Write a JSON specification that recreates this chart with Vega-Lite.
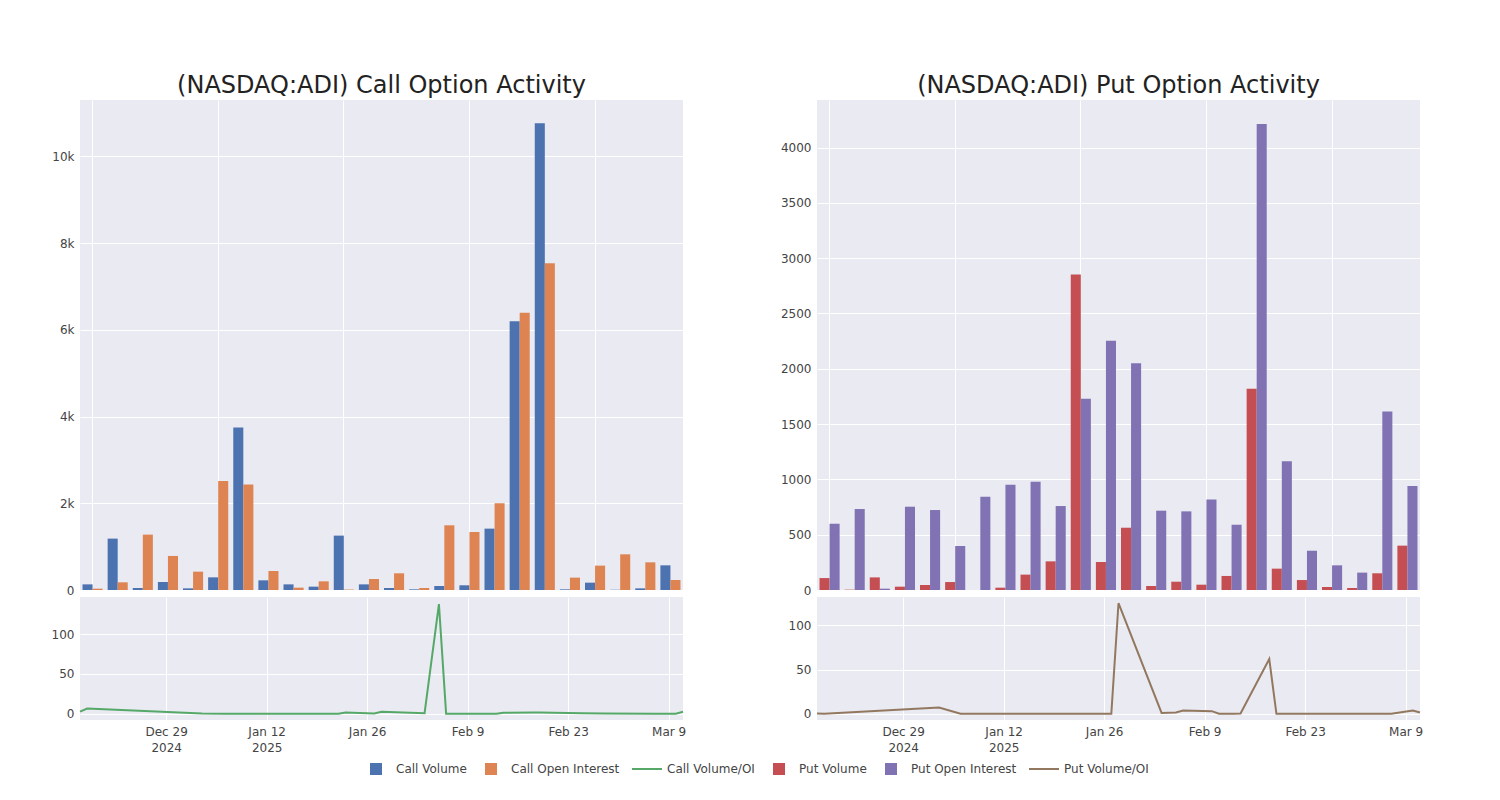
{
  "$schema": "https://vega.github.io/schema/vega-lite/v6.json",
  "background": "white",
  "padding": {"left": 51, "top": 74, "right": 0, "bottom": 0},
  "autosize": {"type": "pad"},
  "datasets": {
    "bars": [
      {"d":"2024-12-17","s":"Call Volume","v":130},{"d":"2024-12-17","s":"Call Open Interest","v":30},{"d":"2024-12-17","s":"Put Volume","v":108},{"d":"2024-12-17","s":"Put Open Interest","v":599},
      {"d":"2024-12-18","s":"Call Volume","v":1185},{"d":"2024-12-18","s":"Call Open Interest","v":177},{"d":"2024-12-18","s":"Put Volume","v":3},{"d":"2024-12-18","s":"Put Open Interest","v":732},
      {"d":"2025-01-03","s":"Call Volume","v":46},{"d":"2025-01-03","s":"Call Open Interest","v":1277},{"d":"2025-01-03","s":"Put Volume","v":114},{"d":"2025-01-03","s":"Put Open Interest","v":12},
      {"d":"2025-01-06","s":"Call Volume","v":185},{"d":"2025-01-06","s":"Call Open Interest","v":785},{"d":"2025-01-06","s":"Put Volume","v":30},{"d":"2025-01-06","s":"Put Open Interest","v":753},
      {"d":"2025-01-10","s":"Call Volume","v":38},{"d":"2025-01-10","s":"Call Open Interest","v":423},{"d":"2025-01-10","s":"Put Volume","v":45},{"d":"2025-01-10","s":"Put Open Interest","v":723},
      {"d":"2025-01-17","s":"Call Volume","v":292},{"d":"2025-01-17","s":"Call Open Interest","v":2515},{"d":"2025-01-17","s":"Put Volume","v":72},{"d":"2025-01-17","s":"Put Open Interest","v":398},
      {"d":"2025-01-22","s":"Call Volume","v":3746},{"d":"2025-01-22","s":"Call Open Interest","v":2431},{"d":"2025-01-22","s":"Put Volume","v":0},{"d":"2025-01-22","s":"Put Open Interest","v":843},
      {"d":"2025-01-23","s":"Call Volume","v":223},{"d":"2025-01-23","s":"Call Open Interest","v":438},{"d":"2025-01-23","s":"Put Volume","v":21},{"d":"2025-01-23","s":"Put Open Interest","v":952},
      {"d":"2025-01-27","s":"Call Volume","v":130},{"d":"2025-01-27","s":"Call Open Interest","v":54},{"d":"2025-01-27","s":"Put Volume","v":139},{"d":"2025-01-27","s":"Put Open Interest","v":979},
      {"d":"2025-01-28","s":"Call Volume","v":77},{"d":"2025-01-28","s":"Call Open Interest","v":200},{"d":"2025-01-28","s":"Put Volume","v":259},{"d":"2025-01-28","s":"Put Open Interest","v":759},
      {"d":"2025-02-03","s":"Call Volume","v":1254},{"d":"2025-02-03","s":"Call Open Interest","v":10},{"d":"2025-02-03","s":"Put Volume","v":2852},{"d":"2025-02-03","s":"Put Open Interest","v":1729},
      {"d":"2025-02-05","s":"Call Volume","v":130},{"d":"2025-02-05","s":"Call Open Interest","v":254},{"d":"2025-02-05","s":"Put Volume","v":253},{"d":"2025-02-05","s":"Put Open Interest","v":2253},
      {"d":"2025-02-06","s":"Call Volume","v":46},{"d":"2025-02-06","s":"Call Open Interest","v":385},{"d":"2025-02-06","s":"Put Volume","v":563},{"d":"2025-02-06","s":"Put Open Interest","v":2051},
      {"d":"2025-02-10","s":"Call Volume","v":15},{"d":"2025-02-10","s":"Call Open Interest","v":46},{"d":"2025-02-10","s":"Put Volume","v":36},{"d":"2025-02-10","s":"Put Open Interest","v":717},
      {"d":"2025-02-11","s":"Call Volume","v":92},{"d":"2025-02-11","s":"Call Open Interest","v":1492},{"d":"2025-02-11","s":"Put Volume","v":75},{"d":"2025-02-11","s":"Put Open Interest","v":711},
      {"d":"2025-02-13","s":"Call Volume","v":108},{"d":"2025-02-13","s":"Call Open Interest","v":1338},{"d":"2025-02-13","s":"Put Volume","v":48},{"d":"2025-02-13","s":"Put Open Interest","v":819},
      {"d":"2025-02-14","s":"Call Volume","v":1415},{"d":"2025-02-14","s":"Call Open Interest","v":2000},{"d":"2025-02-14","s":"Put Volume","v":127},{"d":"2025-02-14","s":"Put Open Interest","v":590},
      {"d":"2025-02-18","s":"Call Volume","v":6200},{"d":"2025-02-18","s":"Call Open Interest","v":6392},{"d":"2025-02-18","s":"Put Volume","v":1819},{"d":"2025-02-18","s":"Put Open Interest","v":4214},
      {"d":"2025-02-19","s":"Call Volume","v":10762},{"d":"2025-02-19","s":"Call Open Interest","v":7538},{"d":"2025-02-19","s":"Put Volume","v":193},{"d":"2025-02-19","s":"Put Open Interest","v":1163},
      {"d":"2025-02-25","s":"Call Volume","v":15},{"d":"2025-02-25","s":"Call Open Interest","v":285},{"d":"2025-02-25","s":"Put Volume","v":90},{"d":"2025-02-25","s":"Put Open Interest","v":355},
      {"d":"2025-02-28","s":"Call Volume","v":169},{"d":"2025-02-28","s":"Call Open Interest","v":562},{"d":"2025-02-28","s":"Put Volume","v":27},{"d":"2025-02-28","s":"Put Open Interest","v":223},
      {"d":"2025-03-07","s":"Call Volume","v":5},{"d":"2025-03-07","s":"Call Open Interest","v":823},{"d":"2025-03-07","s":"Put Volume","v":18},{"d":"2025-03-07","s":"Put Open Interest","v":157},
      {"d":"2025-03-10","s":"Call Volume","v":38},{"d":"2025-03-10","s":"Call Open Interest","v":638},{"d":"2025-03-10","s":"Put Volume","v":151},{"d":"2025-03-10","s":"Put Open Interest","v":1614},
      {"d":"2025-03-11","s":"Call Volume","v":569},{"d":"2025-03-11","s":"Call Open Interest","v":231},{"d":"2025-03-11","s":"Put Volume","v":401},{"d":"2025-03-11","s":"Put Open Interest","v":940}
    ],
    "lines": [
      {"d":"2024-12-17","s":"Call Volume/OI","v":2.5},{"d":"2024-12-18","s":"Call Volume/OI","v":6.5},{"d":"2025-01-03","s":"Call Volume/OI","v":0.3},{"d":"2025-01-06","s":"Call Volume/OI","v":0},
      {"d":"2025-01-10","s":"Call Volume/OI","v":0},{"d":"2025-01-17","s":"Call Volume/OI","v":0},{"d":"2025-01-22","s":"Call Volume/OI","v":0},{"d":"2025-01-23","s":"Call Volume/OI","v":1.5},
      {"d":"2025-01-27","s":"Call Volume/OI","v":0.2},{"d":"2025-01-28","s":"Call Volume/OI","v":2.5},{"d":"2025-02-03","s":"Call Volume/OI","v":0.5},{"d":"2025-02-05","s":"Call Volume/OI","v":138},
      {"d":"2025-02-06","s":"Call Volume/OI","v":0},{"d":"2025-02-10","s":"Call Volume/OI","v":0},{"d":"2025-02-11","s":"Call Volume/OI","v":0},{"d":"2025-02-13","s":"Call Volume/OI","v":0},
      {"d":"2025-02-14","s":"Call Volume/OI","v":1},{"d":"2025-02-18","s":"Call Volume/OI","v":1.5},{"d":"2025-02-19","s":"Call Volume/OI","v":1.5},{"d":"2025-02-25","s":"Call Volume/OI","v":0.5},
      {"d":"2025-02-28","s":"Call Volume/OI","v":0.3},{"d":"2025-03-07","s":"Call Volume/OI","v":0},{"d":"2025-03-10","s":"Call Volume/OI","v":0},{"d":"2025-03-11","s":"Call Volume/OI","v":2.5},
      {"d":"2024-12-17","s":"Put Volume/OI","v":0.3},{"d":"2024-12-18","s":"Put Volume/OI","v":0.1},{"d":"2025-01-03","s":"Put Volume/OI","v":7},{"d":"2025-01-06","s":"Put Volume/OI","v":0},
      {"d":"2025-01-10","s":"Put Volume/OI","v":0},{"d":"2025-01-17","s":"Put Volume/OI","v":0},{"d":"2025-01-22","s":"Put Volume/OI","v":0},{"d":"2025-01-23","s":"Put Volume/OI","v":0},
      {"d":"2025-01-27","s":"Put Volume/OI","v":0},{"d":"2025-01-28","s":"Put Volume/OI","v":125},{"d":"2025-02-03","s":"Put Volume/OI","v":1},{"d":"2025-02-05","s":"Put Volume/OI","v":1.5},
      {"d":"2025-02-06","s":"Put Volume/OI","v":3.8},{"d":"2025-02-10","s":"Put Volume/OI","v":3},{"d":"2025-02-11","s":"Put Volume/OI","v":0},{"d":"2025-02-13","s":"Put Volume/OI","v":0.2},
      {"d":"2025-02-14","s":"Put Volume/OI","v":0.3},{"d":"2025-02-18","s":"Put Volume/OI","v":62},{"d":"2025-02-19","s":"Put Volume/OI","v":0},{"d":"2025-02-25","s":"Put Volume/OI","v":0},
      {"d":"2025-02-28","s":"Put Volume/OI","v":0},{"d":"2025-03-07","s":"Put Volume/OI","v":0},{"d":"2025-03-10","s":"Put Volume/OI","v":3.8},{"d":"2025-03-11","s":"Put Volume/OI","v":1.5}
    ]
  },
  "hconcat": [
    {
      "spacing": 1,
      "vconcat": [
        {
          "title": {"text": "(NASDAQ:ADI) Call Option Activity", "anchor": "middle", "frame": "group"},
          "width": 603, "height": 490,
          "data": {"name": "bars"},
          "transform": [{"filter": "indexof(datum.s, 'Call') == 0"}, {"calculate": "indexof(datum.s, 'Volume') >= 0 ? 'Volume' : 'OI'", "as": "k"}],
          "mark": {"type": "bar"},
          "encoding": {
            "x": {"field": "d", "type": "nominal", "scale": {"paddingInner": 0.2, "paddingOuter": 0.1},
                  "axis": {"title": null, "labels": false, "ticks": false, "domain": false, "grid": true, "bandPosition": 0.5,
                           "values": ["2024-12-17","2025-01-17","2025-02-03","2025-02-13","2025-02-28"]}},
            "xOffset": {"field": "k", "type": "nominal", "scale": {"domain": ["Volume","OI"], "paddingInner": 0, "paddingOuter": 0}},
            "y": {"field": "v", "type": "quantitative", "scale": {"domain": [0, 11300], "nice": false},
                  "axis": {"title": null, "values": [0,2000,4000,6000,8000,10000], "labelExpr": "datum.value == 0 ? '0' : (datum.value / 1000) + 'k'"}},
            "fill": {"field": "s", "type": "nominal",
                     "scale": {"domain": ["Call Volume","Call Open Interest","Call Volume/OI","Put Volume","Put Open Interest","Put Volume/OI"],
                               "range": ["#4C72B0","#DD8452","transparent","#C44E52","#8172B3","transparent"]},
                     "legend": {"orient": "none", "legendX": 280, "legendY": 653, "direction": "horizontal", "title": null, "columns": 6, "columnPadding": 8, "symbolSize": 900, "symbolStrokeWidth": 2, "symbolOpacity": 1, "labelFont": "DejaVu Sans", "labelFontSize": 12, "labelColor": "#444", "labelOffset": 4}}
          }
        },
        {
          "width": 603, "height": 123,
          "data": {"name": "lines"},
          "transform": [{"filter": "datum.s == 'Call Volume/OI'"}],
          "encoding": {
            "x": {"field": "d", "type": "temporal",
                  "scale": {"type": "utc", "nice": false, "domain": [{"year":2024,"month":12,"date":17,"utc":true},{"year":2025,"month":3,"date":11,"utc":true}]},
                  "axis": {"title": null, "grid": true,
                           "values": [{"year":2024,"month":12,"date":29,"utc":true},{"year":2025,"month":1,"date":12,"utc":true},{"year":2025,"month":1,"date":26,"utc":true},{"year":2025,"month":2,"date":9,"utc":true},{"year":2025,"month":2,"date":23,"utc":true},{"year":2025,"month":3,"date":9,"utc":true}],
                           "labelExpr": "[utcFormat(datum.value, '%b %-d'), utcFormat(datum.value, '%b %-d') == 'Dec 29' ? '2024' : (utcFormat(datum.value, '%b %-d') == 'Jan 12' ? '2025' : '')]"}},
            "y": {"field": "v", "type": "quantitative", "scale": {"domain": [-8, 147], "nice": false, "zero": false},
                  "axis": {"title": null, "values": [0, 50, 100]}}
          },
          "layer": [
            {
              "mark": {"type": "line", "strokeWidth": 2},
              "encoding": {
                "stroke": {"field": "s", "type": "nominal",
                           "scale": {"domain": ["Call Volume","Call Open Interest","Call Volume/OI","Put Volume","Put Open Interest","Put Volume/OI"],
                                     "range": ["transparent","transparent","#55A868","transparent","transparent","#937860"]},
                           "legend": {"orient": "none", "legendX": 280, "legendY": 653, "direction": "horizontal", "title": null, "columns": 6, "columnPadding": 8, "symbolSize": 900, "symbolStrokeWidth": 2, "symbolOpacity": 1, "labelFont": "DejaVu Sans", "labelFontSize": 12, "labelColor": "#444", "labelOffset": 4}}
              }
            },
            {
              "mark": {"type": "point", "opacity": 0},
              "encoding": {
                "fill": {"field": "s", "type": "nominal",
                         "scale": {"domain": ["Call Volume","Call Open Interest","Call Volume/OI","Put Volume","Put Open Interest","Put Volume/OI"],
                                   "range": ["#4C72B0","#DD8452","transparent","#C44E52","#8172B3","transparent"]},
                         "legend": {"orient": "none", "legendX": 280, "legendY": 653, "direction": "horizontal", "title": null, "columns": 6, "columnPadding": 8, "symbolSize": 900, "symbolStrokeWidth": 2, "symbolOpacity": 1, "labelFont": "DejaVu Sans", "labelFontSize": 12, "labelColor": "#444", "labelOffset": 4}},
                "stroke": {"field": "s", "type": "nominal",
                           "scale": {"domain": ["Call Volume","Call Open Interest","Call Volume/OI","Put Volume","Put Open Interest","Put Volume/OI"],
                                     "range": ["transparent","transparent","#55A868","transparent","transparent","#937860"]},
                           "legend": {"orient": "none", "legendX": 280, "legendY": 653, "direction": "horizontal", "title": null, "columns": 6, "columnPadding": 8, "symbolSize": 900, "symbolStrokeWidth": 2, "symbolOpacity": 1, "labelFont": "DejaVu Sans", "labelFontSize": 12, "labelColor": "#444", "labelOffset": 4}},
                "shape": {"field": "s", "type": "nominal",
                          "scale": {"domain": ["Call Volume","Call Open Interest","Call Volume/OI","Put Volume","Put Open Interest","Put Volume/OI"],
                                    "range": ["M-0.4,-0.4H0.4V0.4H-0.4Z","M-0.4,-0.4H0.4V0.4H-0.4Z","M-1,-0.4M-1,0L1,0M1,0.4","M-0.4,-0.4H0.4V0.4H-0.4Z","M-0.4,-0.4H0.4V0.4H-0.4Z","M-1,-0.4M-1,0L1,0M1,0.4"]},
                          "legend": {"orient": "none", "legendX": 280, "legendY": 653, "direction": "horizontal", "title": null, "columns": 6, "columnPadding": 8, "symbolSize": 900, "symbolStrokeWidth": 2, "symbolOpacity": 1, "labelFont": "DejaVu Sans", "labelFontSize": 12, "labelColor": "#444", "labelOffset": 4}}
              }
            }
          ]
        }
      ]
    },
    {
      "spacing": 1,
      "vconcat": [
        {
          "title": {"text": "(NASDAQ:ADI) Put Option Activity", "anchor": "middle", "frame": "group"},
          "width": 603, "height": 490,
          "data": {"name": "bars"},
          "transform": [{"filter": "indexof(datum.s, 'Put') == 0"}, {"calculate": "indexof(datum.s, 'Volume') >= 0 ? 'Volume' : 'OI'", "as": "k"}],
          "mark": {"type": "bar"},
          "encoding": {
            "x": {"field": "d", "type": "nominal", "scale": {"paddingInner": 0.2, "paddingOuter": 0.1},
                  "axis": {"title": null, "labels": false, "ticks": false, "domain": false, "grid": true, "bandPosition": 0.5,
                           "values": ["2024-12-17","2025-01-17","2025-02-03","2025-02-13","2025-02-28"]}},
            "xOffset": {"field": "k", "type": "nominal", "scale": {"domain": ["Volume","OI"], "paddingInner": 0, "paddingOuter": 0}},
            "y": {"field": "v", "type": "quantitative", "scale": {"domain": [0, 4430], "nice": false},
                  "axis": {"title": null, "values": [0,500,1000,1500,2000,2500,3000,3500,4000], "format": "d"}},
            "fill": {"field": "s", "type": "nominal",
                     "scale": {"domain": ["Call Volume","Call Open Interest","Call Volume/OI","Put Volume","Put Open Interest","Put Volume/OI"],
                               "range": ["#4C72B0","#DD8452","transparent","#C44E52","#8172B3","transparent"]},
                     "legend": {"orient": "none", "legendX": 280, "legendY": 653, "direction": "horizontal", "title": null, "columns": 6, "columnPadding": 8, "symbolSize": 900, "symbolStrokeWidth": 2, "symbolOpacity": 1, "labelFont": "DejaVu Sans", "labelFontSize": 12, "labelColor": "#444", "labelOffset": 4}}
          }
        },
        {
          "width": 603, "height": 123,
          "data": {"name": "lines"},
          "transform": [{"filter": "datum.s == 'Put Volume/OI'"}],
          "mark": {"type": "line", "strokeWidth": 2},
          "encoding": {
            "x": {"field": "d", "type": "temporal",
                  "scale": {"type": "utc", "nice": false, "domain": [{"year":2024,"month":12,"date":17,"utc":true},{"year":2025,"month":3,"date":11,"utc":true}]},
                  "axis": {"title": null, "grid": true,
                           "values": [{"year":2024,"month":12,"date":29,"utc":true},{"year":2025,"month":1,"date":12,"utc":true},{"year":2025,"month":1,"date":26,"utc":true},{"year":2025,"month":2,"date":9,"utc":true},{"year":2025,"month":2,"date":23,"utc":true},{"year":2025,"month":3,"date":9,"utc":true}],
                           "labelExpr": "[utcFormat(datum.value, '%b %-d'), utcFormat(datum.value, '%b %-d') == 'Dec 29' ? '2024' : (utcFormat(datum.value, '%b %-d') == 'Jan 12' ? '2025' : '')]"}},
            "y": {"field": "v", "type": "quantitative", "scale": {"domain": [-7, 132], "nice": false, "zero": false},
                  "axis": {"title": null, "values": [0, 50, 100]}},
            "stroke": {"field": "s", "type": "nominal",
                       "scale": {"domain": ["Call Volume","Call Open Interest","Call Volume/OI","Put Volume","Put Open Interest","Put Volume/OI"],
                                 "range": ["transparent","transparent","#55A868","transparent","transparent","#937860"]},
                       "legend": {"orient": "none", "legendX": 280, "legendY": 653, "direction": "horizontal", "title": null, "columns": 6, "columnPadding": 8, "symbolSize": 900, "symbolStrokeWidth": 2, "symbolOpacity": 1, "labelFont": "DejaVu Sans", "labelFontSize": 12, "labelColor": "#444", "labelOffset": 4}}
          }
        }
      ]
    }
  ],
  "spacing": 93,
  "config": {
    "view": {"fill": "#EAEAF2", "stroke": null},
    "axis": {"gridColor": "white", "gridWidth": 1, "domain": false, "ticks": false, "labelFont": "DejaVu Sans", "labelFontSize": 12, "labelColor": "#444", "labelPadding": 6, "labelLineHeight": 16},
    "title": {"font": "DejaVu Sans", "fontSize": 24, "fontWeight": "normal", "color": "#222", "offset": 2}
  }
}
